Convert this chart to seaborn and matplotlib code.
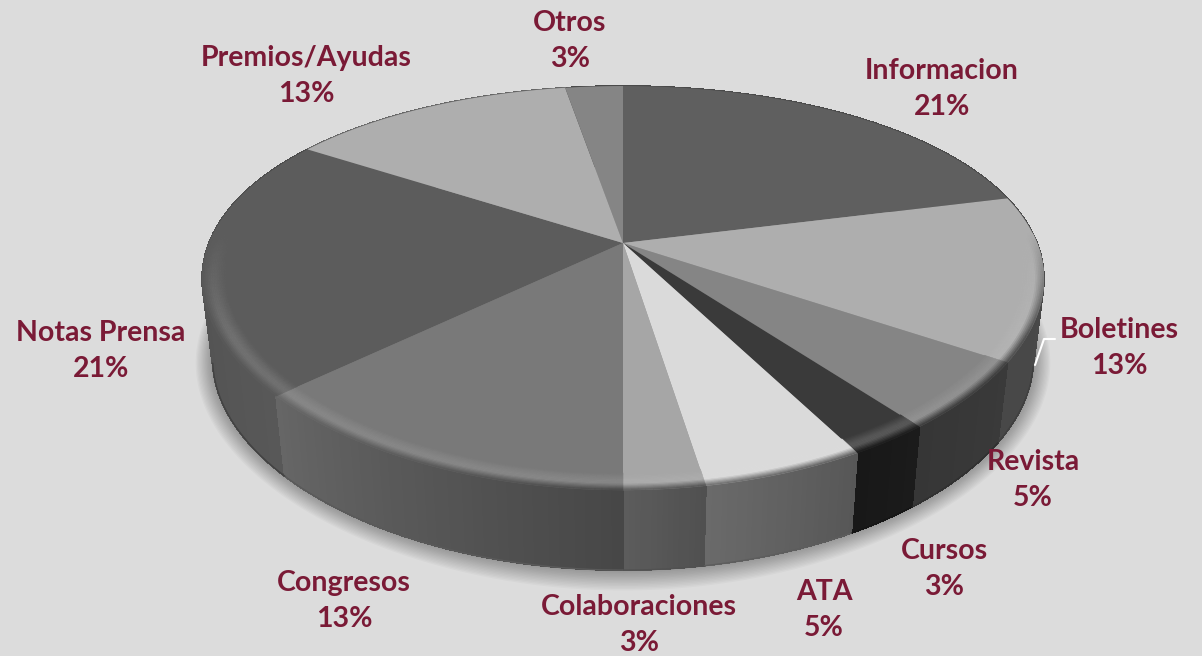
import numpy as np
import matplotlib
matplotlib.use("Agg")
import matplotlib.pyplot as plt
from matplotlib.collections import PolyCollection
from matplotlib.colors import to_rgb
import seaborn as sns

# ---- data
categories = ["Informacion", "Boletines", "Revista", "Cursos", "ATA",
              "Colaboraciones", "Congresos", "Notas Prensa", "Premios/Ayudas", "Otros"]
values = [8, 5, 2, 1, 2, 1, 5, 8, 5, 1]
top_colors = ["#5F5F5F", "#AEAEAE", "#858585", "#3A3A3A", "#DADADA",
              "#A6A6A6", "#797979", "#5C5C5C", "#AEAEAE", "#858585"]
side_start = ["#4a4a4a", "#4a4a4a", "#3a3a3a", "#1b1b1b", "#575757",
              "#505050", "#474747", "#585858", "#666666", "#4a4a4a"]
side_end = ["#4a4a4a", "#484848", "#363636", "#181818", "#6a6a6a",
            "#5c5c5c", "#666666", "#4b4b4b", "#666666", "#4a4a4a"]
label_pos = [(942, 71), (1119, 330), (1033, 462), (944, 551), (824, 592),
             (639, 607), (344, 583), (101, 333), (306, 58), (570, 23)]

BG = "#DCDCDC"
TEXT = "#7A1A36"
CX, CY = 623, 243      # apex of the pie in pixels
A, KX = 414, 0.18      # horizontal perspective
B, K = 192, 0.223      # vertical perspective
DEPTH = 80
BASE_SCALE = 0.975

sns.set_theme(style="white", rc={"figure.facecolor": BG, "axes.facecolor": BG})
plt.rcParams["font.family"] = ["Lato", "DejaVu Sans"]

fig = plt.figure(figsize=(12.02, 6.56), dpi=100)
ax = fig.add_axes([0, 0, 1, 1])

wedges, _ = ax.pie(values, startangle=90, counterclock=False, radius=1)
angles = [(w.theta1, w.theta2) for w in wedges]
for w in wedges:
    w.remove()
ax.set_aspect("auto")
ax.set_xlim(0, 1202)
ax.set_ylim(656, 0)
ax.axis("off")


def project(r, theta_deg):
    t = np.radians(theta_deg)
    u, v = r * np.cos(t), -r * np.sin(t)
    return np.column_stack([CX + A * u / (1 - KX * v), CY + B * v / (1 - K * v)])


def lift(pts):
    out = pts.copy()
    out[:, 0] = CX + (pts[:, 0] - CX) * BASE_SCALE
    out[:, 1] = pts[:, 1] + DEPTH
    return out


def mix(a, b, t):
    a, b = np.asarray(a), np.asarray(b)
    return tuple(a + (b - a) * t)


# soft shadow under the disc
ring = np.linspace(0, 360, 361)
for i, grow in enumerate(np.linspace(17, 1, 14)):
    pts = lift(project(1.0, ring))
    c = pts.mean(axis=0)
    d = pts - c
    n = np.hypot(d[:, 0], d[:, 1])[:, None]
    shadow = c + d * (1 + grow / n) + np.array([0, grow * 0.2])
    ax.fill(shadow[:, 0], shadow[:, 1], color="black", alpha=0.022, lw=0, zorder=1)

# side wall
quads, quad_colors, quad_depth = [], [], []
for (t1, t2), c1, c2 in zip(angles, side_start, side_end):
    n = max(2, int((t2 - t1) / 0.6))
    grid = np.linspace(t2, t1, n + 1)   # clockwise from the wedge's start
    pal = sns.blend_palette([c1, c2], n_colors=n)
    for i in range(n):
        seg = project(1.0, grid[i:i + 2])
        quads.append(np.vstack([seg, lift(seg)[::-1]]))
        quad_colors.append(pal[i])
        quad_depth.append(-np.sin(np.radians(grid[i:i + 2].mean())))
order = np.argsort(quad_depth)
ax.add_collection(PolyCollection([quads[i] for i in order],
                                 facecolors=[quad_colors[i] for i in order],
                                 edgecolors=[quad_colors[i] for i in order],
                                 linewidths=0.6, antialiaseds=False, zorder=2))

# bottom edge of the wall, slightly darker
for (t1, t2), c1 in zip(angles, side_end):
    g = np.linspace(t1, t2, 40)
    low = lift(project(1.0, g))
    vis = -np.sin(np.radians(g)) > 0.2
    ax.plot(low[vis, 0], low[vis, 1], color=mix(to_rgb(c1), (0, 0, 0), 0.12), lw=1.0, zorder=3)

# top face and bevelled rim
R0, BANDS = 0.945, 14
radii = np.linspace(R0, 1.0, BANDS + 1)
base_polys, base_cols, polys, cols = [], [], [], []
for (t1, t2), top, s1, s2 in zip(angles, top_colors, side_start, side_end):
    n = max(2, int((t2 - t1) / 0.8))
    grid = np.linspace(t2, t1, n + 1)
    rgb = to_rgb(top)
    base_polys.append(np.vstack([[[CX, CY]], project(1.0, grid)]))
    base_cols.append(rgb)
    side_pal = sns.blend_palette([s1, s2], n_colors=n)
    for j in range(n):
        mid = grid[j:j + 2].mean()
        v = -np.sin(np.radians(mid))
        strength = np.clip((v + 0.05) / 0.5, 0, 1)
        if strength <= 0:
            continue
        edge = mix(rgb, side_pal[j], strength)
        light = mix(rgb, (1, 1, 1), 0.1 * strength * (1 - np.mean(rgb)) / 0.5)
        for b in range(BANDS):
            f = (b + 0.5) / BANDS
            if f < 0.45:
                c = mix(rgb, light, f / 0.45)
            elif f < 0.62:
                c = light
            else:
                c = mix(light, edge, (f - 0.62) / 0.38)
            seg_in = project(radii[b], grid[j:j + 2])
            seg_out = project(radii[b + 1], grid[j:j + 2])
            polys.append(np.vstack([seg_in, seg_out[::-1]]))
            cols.append(c)
ax.add_collection(PolyCollection(base_polys, facecolors=base_cols, edgecolors="none", zorder=4))
ax.add_collection(PolyCollection(polys, facecolors=cols, edgecolors=cols,
                                 linewidths=0.35, zorder=5))

# labels
total = sum(values)
for name, val, (x, y) in zip(categories, values, label_pos):
    pct = f"{round(100 * val / total)}%"
    ax.text(x, y, name, color=TEXT, fontsize=20.5, fontweight="bold",
            ha="center", va="center", zorder=7)
    ax.text(x, y + 36, pct, color=TEXT, fontsize=20.5, fontweight="bold",
            ha="center", va="center", zorder=7)

# leader line of Boletines
ax.plot([1035, 1044, 1055], [365, 339, 339], color="white", lw=1.5, zorder=6)

fig.savefig("out.png", dpi=100, facecolor=BG)
